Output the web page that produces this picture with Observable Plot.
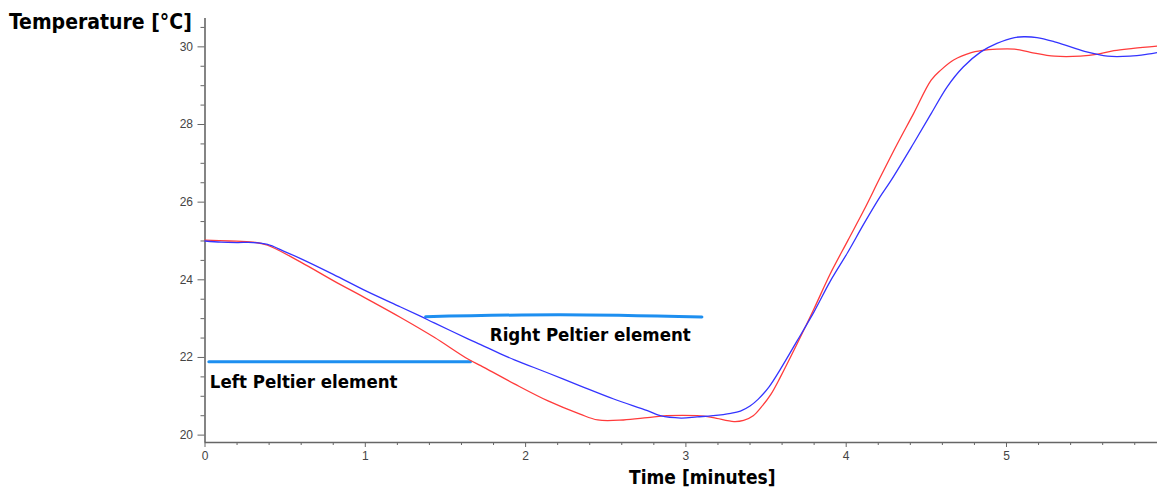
<!DOCTYPE html>
<html><head><meta charset="utf-8">
<script src="https://cdn.jsdelivr.net/npm/d3@7"></script>
<script src="https://cdn.jsdelivr.net/npm/@observablehq/plot@0.6"></script>
<style>
body{margin:0;background:#fff;}
#chart svg{display:block;}
</style></head><body><div id="chart"></div>
<script>
// Blue series (time in minutes, temperature in °C)
const blueTime = [0,0.1,0.2,0.3,0.39,0.49,0.6,0.8,1.01,1.22,1.34,1.43,1.64,1.72,1.84,1.93,2.14,2.34,2.55,2.76,2.84,2.97,3.07,3.17,3.28,3.34,3.4,3.45,3.52,3.59,3.69,3.8,3.9,4.01,4.11,4.21,4.28,4.42,4.53,4.63,4.73,4.84,4.94,5.05,5.11,5.19,5.3,5.4,5.5,5.63,5.77,5.88,5.94];
const blueTemp = [25.0,24.97,24.96,24.96,24.91,24.74,24.54,24.14,23.7,23.3,23.07,22.89,22.48,22.33,22.1,21.94,21.6,21.27,20.93,20.63,20.5,20.44,20.47,20.5,20.56,20.62,20.75,20.92,21.25,21.7,22.4,23.18,23.96,24.71,25.44,26.13,26.56,27.51,28.28,28.97,29.48,29.87,30.09,30.24,30.26,30.24,30.13,30.0,29.87,29.76,29.76,29.81,29.85];
// Red series
const redTime = [0,0.15,0.3,0.39,0.6,0.8,1.01,1.22,1.43,1.64,1.72,1.76,1.93,2.14,2.34,2.45,2.61,2.76,2.88,3.07,3.17,3.3,3.36,3.42,3.47,3.53,3.59,3.69,3.8,3.9,4.01,4.11,4.21,4.32,4.42,4.53,4.59,4.67,4.78,4.84,4.94,5.05,5.15,5.3,5.46,5.57,5.67,5.79,5.94];
const redTemp = [25.02,25.0,24.97,24.89,24.45,23.98,23.51,23.03,22.52,21.96,21.79,21.7,21.32,20.88,20.54,20.39,20.39,20.45,20.5,20.5,20.45,20.35,20.38,20.5,20.72,21.05,21.5,22.32,23.26,24.15,25.01,25.79,26.62,27.51,28.28,29.14,29.4,29.66,29.85,29.9,29.94,29.94,29.86,29.76,29.76,29.81,29.9,29.96,30.02];
// Annotation lines and labels
const leftLineTime = [0.024, 1.656];
const leftLineTemp = [21.89, 21.89];
const rightLineTime = [1.376, 2.218, 3.10];
const rightLineTemp = [23.05, 23.10, 23.04];
const peltierLabels = ["Left Peltier element", "Right Peltier element"];
const labelTime = [0.03, 1.777];
const labelTemp = [21.21, 22.43];
// Axes
const xTicks = [0,1,2,3,4,5];
const xMinorTicks = [0.2,0.4,0.6,0.8,1.2,1.4,1.6,1.8,2.2,2.4,2.6,2.8,3.2,3.4,3.6,3.8,4.2,4.4,4.6,4.8,5.2,5.4,5.6,5.8];
const yTicks = [20,22,24,26,28,30];
const yMinorTicks = [20.5,21,21.5,22.5,23,23.5,24.5,25,25.5,26.5,27,27.5,28.5,29,29.5,30.5];
const xDomain = [0, 5.942];
const yDomain = [19.81, 30.73];
const yTitle = "Temperature [°C]";
const xTitle = "Time [minutes]";

const blue = blueTime.map((t, i) => ({t, v: blueTemp[i]}));
const red = redTime.map((t, i) => ({t, v: redTemp[i]}));
const leftLine = leftLineTime.map((t, i) => ({t, v: leftLineTemp[i]}));
const rightLine = rightLineTime.map((t, i) => ({t, v: rightLineTemp[i]}));
const labels = peltierLabels.map((s, i) => ({s, t: labelTime[i], v: labelTemp[i]}));

const titleFont = '"Liberation Sans Narrow", "Arial Narrow", "DejaVu Sans Condensed", sans-serif';
const axisColor = "#666";
const tickText = "#444";

const chart = Plot.plot({
  width: 1157,
  height: 487,
  marginLeft: 204.5,
  marginRight: 0,
  marginTop: 18,
  marginBottom: 45,
  style: {fontFamily: '"Liberation Sans", Arial, sans-serif', fontSize: "12px", background: "#fff"},
  x: {domain: xDomain, label: null},
  y: {domain: yDomain, label: null},
  marks: [
    Plot.axisY({ticks: yMinorTicks, tickSize: 4, text: null, stroke: axisColor, strokeWidth: 1}),
    Plot.axisY({ticks: yTicks, tickSize: 7, tickPadding: 5, stroke: axisColor, strokeWidth: 1, fill: tickText, fontSize: 12, tickFormat: d => String(d)}),
    Plot.axisX({ticks: xMinorTicks, tickSize: 3, text: null, stroke: axisColor, strokeWidth: 1}),
    Plot.axisX({ticks: xTicks, tickSize: 5, tickPadding: 4, stroke: axisColor, strokeWidth: 1, fill: tickText, fontSize: 12, tickFormat: d => String(d)}),
    Plot.ruleX([xDomain[0]], {stroke: axisColor, strokeWidth: 1.6}),
    Plot.ruleY([yDomain[0]], {stroke: axisColor, strokeWidth: 1.6}),
    Plot.line(leftLine, {x: "t", y: "v", stroke: "#1e8ff0", strokeWidth: 3}),
    Plot.line(rightLine, {x: "t", y: "v", stroke: "#1e8ff0", strokeWidth: 3, curve: "natural"}),
    Plot.line(red, {x: "t", y: "v", stroke: "#ff3b3b", strokeWidth: 1.3, curve: "catmull-rom"}),
    Plot.line(blue, {x: "t", y: "v", stroke: "#3434ff", strokeWidth: 1.3, curve: "catmull-rom"}),
    Plot.text(labels, {x: "t", y: "v", text: "s", textAnchor: "start", lineAnchor: "bottom", fontFamily: titleFont, fontWeight: "bold", fontSize: 18.5, fill: "#000"}),
    Plot.text([yTitle], {frameAnchor: "top-left", text: d => d, textAnchor: "start", lineAnchor: "bottom", dx: -196, dy: 10, fontFamily: titleFont, fontWeight: "bold", fontSize: 21, fill: "#000"}),
    Plot.text([xTitle], {frameAnchor: "bottom", text: d => d, textAnchor: "middle", lineAnchor: "bottom", dx: 21, dy: 41, fontFamily: titleFont, fontWeight: "bold", fontSize: 19, fill: "#000"})
  ]
});
document.getElementById("chart").append(chart);
</script>
</body></html>
